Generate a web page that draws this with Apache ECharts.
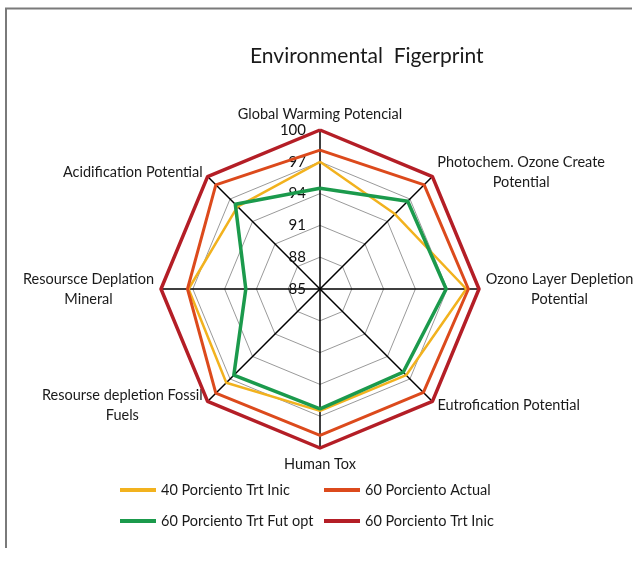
<!DOCTYPE html>
<html><head><meta charset="utf-8">
<script src="https://cdn.jsdelivr.net/npm/echarts@6/dist/echarts.min.js"></script>
<style>html,body{margin:0;padding:0;background:#fff}#c{width:638px;height:561px}</style>
</head><body><div id="c"></div>
<script>
// Indicators in counter-clockwise order from top (ECharts radar draws counter-clockwise)
const indicatorNames = [
  'Global Warming Potencial',
  'Acidification Potential',
  'Resoursce Deplation\nMineral',
  'Resourse depletion Fossil\nFuels',
  'Human Tox',
  'Eutrofication Potential',
  'Ozono Layer Depletion\nPotential',
  'Photochem. Ozone Create\nPotential'
];
const tickValues = [85, 88, 91, 94, 97, 100];
const seriesNames = ['40 Porciento Trt Inic', '60 Porciento Actual', '60 Porciento Trt Fut opt', '60 Porciento Trt Inic'];
// values in the same order as indicatorNames
const s40TrtInic   = [97.0, 96.0, 97.4, 97.5, 96.5, 96.5, 98.8, 95.0];
const s60Actual    = [98.1, 98.9, 97.5, 98.9, 98.8, 98.8, 99.0, 98.9];
const s60TrtFutOpt = [94.5, 96.3, 92.0, 96.5, 96.3, 96.1, 96.9, 96.7];
const s60TrtInic   = [100, 100, 100, 100, 100, 100, 100, 100];

const colors = ['#F2B21E', '#DC4A1C', '#1B9A4C', '#B41E26'];
const widths = [2.5, 3, 3.5, 3.5];
const FONT = 'Lato, "Open Sans", sans-serif';
const NAME_SIZE = 14.5;

// measure longest line of each name for centered multi-line labels
const cv = document.createElement('canvas').getContext('2d');
cv.font = NAME_SIZE + 'px Lato';
const rich = {};
indicatorNames.forEach((n, i) => {
  const w = Math.max(...n.split('\n').map(l => cv.measureText(l).width));
  rich['k' + i] = {width: Math.ceil(w) + 1, align: 'center', fontSize: NAME_SIZE, fontFamily: FONT, color: '#1a1a1a', lineHeight: 20};
});

const chart = echarts.init(document.getElementById('c'));
const allValues = [s40TrtInic, s60Actual, s60TrtFutOpt, s60TrtInic];

chart.setOption({
  animation: false,
  backgroundColor: '#fff',
  title: {
    text: 'Environmental  Figerprint',
    left: 245, top: 41,
    textStyle: {fontFamily: FONT, fontSize: 21, fontWeight: 'normal', color: '#1a1a1a'}
  },
  legend: [
    {
      orient: 'vertical', left: 120, top: 482, padding: 0,
      data: [seriesNames[0], seriesNames[2]],
      icon: 'rect', itemWidth: 36, itemHeight: 4, itemGap: 15,
      textStyle: {fontFamily: FONT, fontSize: 14.5, color: '#1a1a1a', lineHeight: 16}
    },
    {
      orient: 'vertical', left: 324, top: 482, padding: 0,
      data: [seriesNames[1], seriesNames[3]],
      icon: 'rect', itemWidth: 36, itemHeight: 4, itemGap: 15,
      textStyle: {fontFamily: FONT, fontSize: 14.5, color: '#1a1a1a', lineHeight: 16}
    }
  ],
  radar: {
    center: [320, 289],
    radius: 159,
    startAngle: 90,
    shape: 'polygon',
    splitNumber: tickValues.length - 1,
    axisNameGap: 6,
    indicator: indicatorNames.map((n, i) => i === 0
      ? {name: n, min: tickValues[0], max: tickValues[tickValues.length - 1],
         axisLabel: {show: true}}
      : {name: n, min: tickValues[0], max: tickValues[tickValues.length - 1]}),
    axisName: {
      formatter: function (value) {
        const i = indicatorNames.indexOf(value);
        return value.split('\n').map(l => '{k' + i + '|' + l + '}').join('\n');
      },
      rich: rich,
      fontFamily: FONT, fontSize: NAME_SIZE, color: '#1a1a1a'
    },
    axisLine: {lineStyle: {color: '#000', width: 1.5}},
    splitLine: {lineStyle: {color: '#9a9a9a', width: 1}},
    splitArea: {show: false},
    axisTick: {show: false},
    axisLabel: {
      show: false, margin: 14, showMinLabel: true, showMaxLabel: true,
      fontFamily: FONT, fontSize: 15, color: '#111'
    }
  },
  series: seriesNames.map((name, k) => ({
    type: 'radar',
    name: name,
    symbol: 'none',
    itemStyle: {color: colors[k]},
    lineStyle: {color: colors[k], width: widths[k]},
    data: [{value: allValues[k], name: name}]
  })),
  graphic: [
    {type: 'polyline', shape: {points: [[6, 548], [6, 8.5], [632, 8.5]]},
     style: {stroke: '#7a7a7a', fill: null, lineWidth: 2}, silent: true}
  ]
});
</script></body></html>
